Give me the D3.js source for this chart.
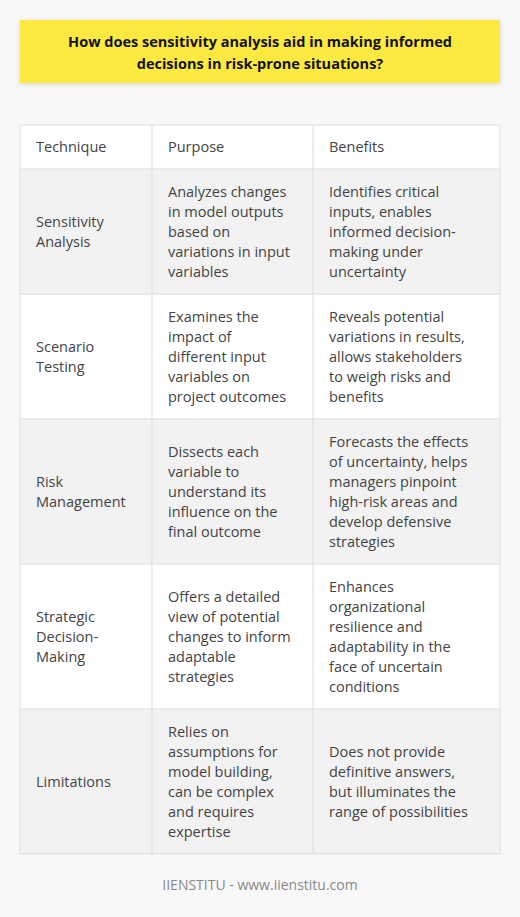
<!DOCTYPE html>
<html><head><meta charset="utf-8">
<script src="https://cdn.jsdelivr.net/npm/d3@7"></script>
<style>body{margin:0;background:#f8f8f8;}text{font-family:"Open Sans",sans-serif;}</style>
</head><body>
<svg id="c" width="520" height="917"></svg>
<script>
var title = ["How does sensitivity analysis aid in making informed", "decisions in risk-prone situations?"];
var headers = ["Technique", "Purpose", "Benefits"];
var techniques = [["Sensitivity", "Analysis"], ["Scenario", "Testing"], ["Risk", "Management"], ["Strategic", "Decision-", "Making"], ["Limitations"]];
var purposes = [
	["Analyzes changes", "in model outputs", "based on", "variations in input", "variables"],
	["Examines the", "impact of", "different input", "variables on", "project outcomes"],
	["Dissects each", "variable to", "understand its", "influence on the", "final outcome"],
	["Offers a detailed", "view of potential", "changes to inform", "adaptable", "strategies"],
	["Relies on", "assumptions for", "model building,", "can be complex", "and requires", "expertise"]];
var benefits = [
	["Identifies critical", "inputs, enables", "informed decision-", "making under", "uncertainty"],
	["Reveals potential", "variations in results,", "allows stakeholders", "to weigh risks and", "benefits"],
	["Forecasts the effects", "of uncertainty, helps", "managers pinpoint", "high-risk areas and", "develop defensive", "strategies"],
	["Enhances", "organizational", "resilience and", "adaptability in the", "face of uncertain", "conditions"],
	["Does not provide", "definitive answers,", "but illuminates the", "range of possibilities"]];
var rowHeights = [125, 125, 145, 145, 145];
var footer = "IIENSTITU - www.iienstitu.com";

var svg = d3.select('#c');
svg.append('rect').attr('x',20).attr('y',20).attr('width',480).attr('height',63).attr('fill','#fde93f')
	.style('filter','drop-shadow(0 1px 2px rgba(0,0,0,0.15))');
svg.append('text').attr('text-anchor','middle').attr('font-weight','bold').attr('font-size',14.5).attr('fill','#111')
	.selectAll('tspan').data(title).enter().append('tspan').attr('x',260).attr('y',function(d,i){return 47+i*22;}).text(function(d){return d;});

var colX = [20, 152, 313, 500];
var tableTop = 125, headH = 44;
var rowY = [tableTop + headH];
rowHeights.forEach(function(h, i){ rowY.push(rowY[i] + h); });
var g = svg.append('g');
g.append('rect').attr('x',20).attr('y',tableTop).attr('width',480).attr('height',headH).attr('fill','#fff');
rowHeights.forEach(function(h, i){
	g.append('rect').attr('x',20).attr('y',rowY[i]).attr('width',480).attr('height',h).attr('fill', i%2===0 ? '#f2f2f2' : '#fff');
});
function cell(lines, ci, yc){
	var n = lines.length, y0 = yc - (n-1)*10 + 5;
	g.append('text').attr('font-size',14.5).attr('fill','#444').selectAll('tspan').data(lines).enter().append('tspan')
		.attr('x', colX[ci]+16).attr('y', function(d,i){return y0 + i*20;}).text(function(d){return d;});
}
headers.forEach(function(h, ci){ cell([h], ci, tableTop + headH/2); });
rowHeights.forEach(function(h, i){
	var yc = rowY[i] + h/2;
	cell(techniques[i], 0, yc); cell(purposes[i], 1, yc); cell(benefits[i], 2, yc);
});
var endY = rowY[rowY.length-1];
rowY.concat([tableTop]).forEach(function(y){ g.append('line').attr('x1',20).attr('x2',500).attr('y1',y).attr('y2',y).attr('stroke','#ddd'); });
colX.forEach(function(x){ g.append('line').attr('x1',x).attr('x2',x).attr('y1',tableTop).attr('y2',endY).attr('stroke','#ddd'); });

svg.append('text').attr('x',260).attr('y',890).attr('text-anchor','middle').attr('font-size',14).attr('fill','#888').text(footer);
</script>
</body></html>
